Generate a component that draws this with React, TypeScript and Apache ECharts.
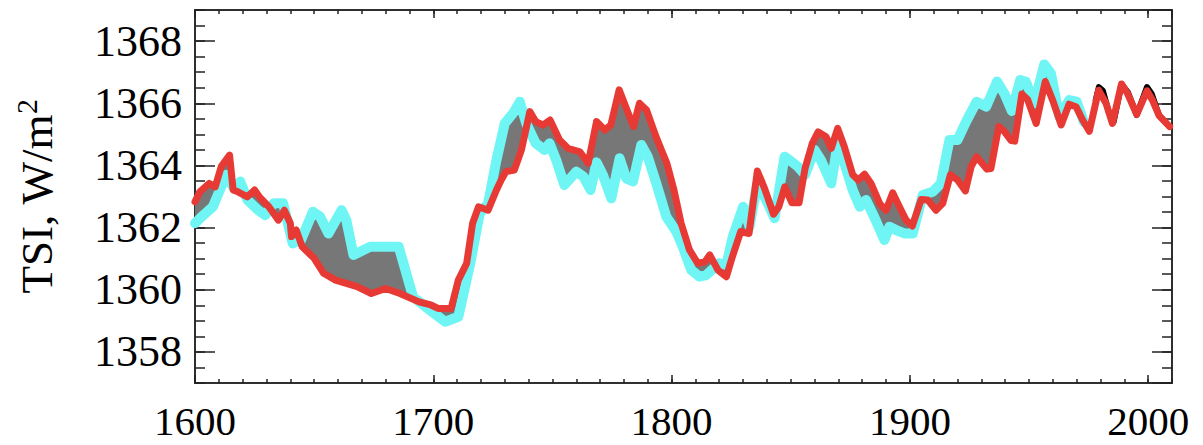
import React, { useEffect, useRef } from "react";
import * as echarts from "echarts";

// Red reconstruction (years, W/m^2)
const redYears = [1600,1602,1606,1608.5,1611,1614.5,1616,1618,1622,1625,1627,1631,1635,1637.5,1640,1640.5,1642.5,1645,1650,1654,1659,1668,1674,1680,1686,1694,1699,1702,1707.5,1710.5,1714,1716.5,1719,1723,1726.5,1728.5,1730.5,1734,1737,1740.5,1743,1746,1749,1753,1756.5,1761.5,1765,1768.5,1772,1774.5,1778,1781,1784,1786.5,1789.5,1793.5,1798,1801,1804,1807.5,1811,1814,1816,1819.5,1823,1825.5,1829,1832.5,1836,1839,1842.8,1845,1847.5,1850.5,1853.5,1856,1859,1861.5,1864.8,1867,1869.7,1872.5,1876,1878.3,1881,1883.7,1887.5,1890,1892.8,1895.6,1898.4,1901,1904.7,1907.5,1911,1913.8,1917,1920,1923.3,1925.7,1928,1932.3,1934,1937.3,1939.5,1942.5,1944,1947,1949.4,1953,1956.8,1959.9,1963.5,1966.8,1969.7,1972.5,1975.3,1979.2,1982.3,1985,1988.8,1991.3,1995.2,1999.5,2001.8,2004.6,2009];
const redValues = [1362.83,1363.15,1363.42,1363.31,1363.96,1364.33,1363.21,1363.15,1362.99,1363.21,1362.99,1362.67,1362.24,1362.56,1362.14,1361.71,1361.92,1361.38,1361.01,1360.53,1360.31,1360.10,1359.88,1360.04,1359.88,1359.61,1359.51,1359.40,1359.40,1360.31,1360.85,1362.14,1362.67,1362.56,1363.21,1363.53,1363.80,1363.85,1364.50,1365.73,1365.41,1365.30,1365.46,1364.82,1364.55,1364.44,1364.07,1365.41,1365.14,1365.30,1366.43,1365.84,1365.25,1366.00,1365.78,1364.92,1364.07,1363.21,1362.14,1361.28,1360.85,1360.90,1361.12,1360.63,1360.42,1361.06,1361.87,1361.81,1363.82,1363.26,1362.43,1362.67,1363.31,1362.80,1362.80,1363.90,1364.70,1365.08,1364.92,1364.55,1365.19,1364.60,1363.70,1363.53,1363.72,1363.42,1362.75,1362.56,1363.12,1362.67,1362.24,1362.05,1362.90,1362.89,1362.56,1362.78,1363.70,1363.53,1363.18,1363.96,1364.28,1363.88,1363.90,1365.25,1365.10,1364.80,1364.78,1366.30,1366.12,1365.35,1366.70,1366.10,1365.30,1365.97,1365.89,1365.46,1365.10,1366.42,1366.00,1365.35,1366.62,1366.32,1365.64,1366.40,1366.10,1365.60,1365.25];

// Cyan reconstruction
const cyanYears = [1600,1603.5,1607.5,1611,1613,1616,1619,1622,1626.5,1629.5,1633,1637,1641,1644.5,1649.5,1652.5,1656,1661.5,1663.5,1666.5,1673.5,1685.5,1691.5,1698.5,1705,1710.5,1715.5,1719.5,1723,1726.5,1730,1733.5,1736.3,1739,1743,1746.7,1748.8,1751.6,1755,1760,1763,1766,1768.5,1771.2,1774.7,1778.2,1781,1783.8,1787.3,1790,1793.6,1797.8,1802,1804.7,1808.3,1811.7,1814.5,1820,1823,1825.7,1830,1832.7,1836,1839.7,1843.2,1847.4,1849.5,1853,1856,1860,1862.7,1867,1869.7,1873,1876,1879,1881.6,1885,1889.3,1891.4,1894.2,1897.7,1901.2,1905.4,1909.6,1913,1916.6,1920,1923.6,1928,1932,1936.6,1939.6,1942.8,1946.3,1948.7,1952.2,1956.4,1959.2,1962.7,1966.9,1970,1973];
const cyanValues = [1362.14,1362.40,1362.67,1363.31,1363.70,1363.30,1363.48,1362.89,1362.56,1362.40,1362.78,1362.78,1361.49,1361.60,1362.51,1362.35,1361.81,1362.56,1362.24,1361.12,1361.38,1361.38,1359.77,1359.35,1358.97,1359.13,1360.85,1362.46,1362.78,1364.17,1365.35,1365.68,1366.05,1365.35,1364.71,1364.50,1364.71,1364.17,1363.37,1363.80,1363.64,1363.21,1364.10,1363.69,1362.94,1364.23,1363.58,1363.48,1364.66,1364.28,1363.42,1362.35,1361.87,1361.38,1360.63,1360.42,1360.47,1360.85,1360.80,1361.71,1362.67,1362.03,1363.42,1362.89,1362.30,1364.28,1364.17,1363.96,1363.70,1364.50,1364.17,1363.42,1364.71,1363.96,1363.21,1362.67,1362.89,1362.35,1361.60,1362.03,1361.92,1361.81,1361.81,1363.05,1363.15,1363.42,1364.82,1364.82,1365.41,1366.05,1365.89,1366.70,1366.32,1365.75,1366.75,1366.69,1366.00,1367.25,1366.96,1365.57,1366.10,1366.05,1365.40];

// Black (observations)
const blackYears = [1978,1979.3,1981,1983.5,1985.5,1988.8,1991.5,1995.2,1999.5,2001.5,2004.6,2009];
const blackValues = [1366.10,1366.52,1366.40,1365.70,1365.40,1366.62,1366.35,1365.62,1366.52,1366.30,1365.60,1365.25];

const X_MIN = 1600;
const X_MAX = 2010;
const Y_MIN = 1357;
const Y_MAX = 1369;

const zip = (xs: number[], ys: number[]) => xs.map((x, i) => [x, ys[i]]);

export default function App() {
  const ref = useRef<HTMLDivElement>(null);
  useEffect(() => {
    if (!ref.current) return;
    const chart = echarts.init(ref.current, null, { renderer: "svg" });
    const red = zip(redYears, redValues);
    const cyan = zip(cyanYears, cyanValues);
    const black = zip(blackYears, blackValues);
    const lastCyan = cyanYears[cyanYears.length - 1];
    const font = "'Liberation Serif', 'Times New Roman', serif";
    const axisColor = "#222";
    const lineW = 1.5;

    const xAxisBase = (position: string, interval: number, len: number, labels: boolean) => ({
      type: "value",
      position,
      min: X_MIN,
      max: X_MAX,
      interval,
      axisLine: { show: true, onZero: false, lineStyle: { color: axisColor, width: lineW } },
      axisTick: { show: true, inside: true, length: len, lineStyle: { color: axisColor, width: lineW } },
      axisLabel: labels
        ? {
            show: true,
            margin: 21,
            fontSize: 41,
            lineHeight: 34,
            fontFamily: font,
            color: "#000",
            showMaxLabel: false,
            formatter: (v: number) => (v % 100 === 0 ? String(v) : ""),
          }
        : { show: false },
      splitLine: { show: false },
    });

    const yMajor = (position: string, labels: boolean) => ({
      type: "value",
      position,
      min: Y_MIN,
      max: Y_MAX,
      splitNumber: 6,
      axisLine: { show: true, onZero: false, lineStyle: { color: axisColor, width: lineW } },
      axisTick: { show: true, inside: true, length: 20, lineStyle: { color: axisColor, width: lineW } },
      axisLabel: labels
        ? {
            show: true,
            margin: 13,
            fontSize: 44,
            fontFamily: font,
            color: "#000",
            showMinLabel: false,
            showMaxLabel: false,
            formatter: (v: number) => (v % 2 === 0 ? String(v) : ""),
          }
        : { show: false },
      splitLine: { show: false },
      ...(labels
        ? {
            name: "TSI, W/m{sup|2}",
            nameLocation: "middle",
            nameRotate: 90,
            nameGap: 132,
            nameMoveOverlap: false,
            nameTextStyle: {
              fontSize: 45,
              fontFamily: font,
              color: "#000",
              lineHeight: 52,
              rich: {
                sup: { fontSize: 30, fontFamily: font, color: "#000", verticalAlign: "top", lineHeight: 32 },
              },
            },
          }
        : {}),
    });

    const yMinor = (position: string) => ({
      type: "value",
      position,
      min: Y_MIN,
      max: Y_MAX,
      interval: 0.5,
      axisLine: { show: true, onZero: false, lineStyle: { color: axisColor, width: lineW } },
      axisTick: { show: true, inside: true, length: 10, lineStyle: { color: axisColor, width: lineW } },
      axisLabel: { show: false },
      splitLine: { show: false },
    });

    chart.setOption({
      animation: false,
      backgroundColor: "#fff",
      grid: { left: 195, right: 31, top: 10, bottom: 62, containLabel: false },
      xAxis: [
        xAxisBase("bottom", 100, 8, true),
        xAxisBase("bottom", 10, 4, false),
        xAxisBase("top", 100, 8, false),
        xAxisBase("top", 10, 4, false),
      ],
      yAxis: [yMajor("left", true), yMinor("left"), yMajor("right", false), yMinor("right")],
      series: [
        {
          type: "custom",
          name: "difference",
          xAxisIndex: 0,
          yAxisIndex: 0,
          silent: true,
          clip: true,
          data: [[X_MIN, Y_MIN]],
          renderItem: (_params: any, api: any) => {
            const upper = red.filter((p) => p[0] <= lastCyan).map((p) => api.coord(p));
            const lower = cyan.slice().reverse().map((p) => api.coord(p));
            return {
              type: "polygon",
              shape: { points: upper.concat(lower) },
              style: { fill: "#777777", stroke: "none" },
            };
          },
        },
        {
          type: "line",
          name: "cyan",
          xAxisIndex: 0,
          yAxisIndex: 0,
          data: cyan,
          showSymbol: false,
          symbol: "none",
          clip: true,
          lineStyle: { color: "#70F5F5", width: 10, join: "round", cap: "round" },
        },
        {
          type: "line",
          name: "black",
          xAxisIndex: 0,
          yAxisIndex: 0,
          data: black,
          showSymbol: false,
          symbol: "none",
          clip: true,
          lineStyle: { color: "#000", width: 6, join: "round", cap: "round" },
        },
        {
          type: "line",
          name: "red",
          xAxisIndex: 0,
          yAxisIndex: 0,
          data: red,
          showSymbol: false,
          symbol: "none",
          clip: true,
          lineStyle: { color: "#E83A35", width: 7, join: "round", cap: "round" },
        },
      ],
    });
    return () => chart.dispose();
  }, []);
  return (
    <div
      ref={ref}
      style={{ position: "absolute", left: 0, top: 0, width: 1203, height: 445 }}
    />
  );
}
